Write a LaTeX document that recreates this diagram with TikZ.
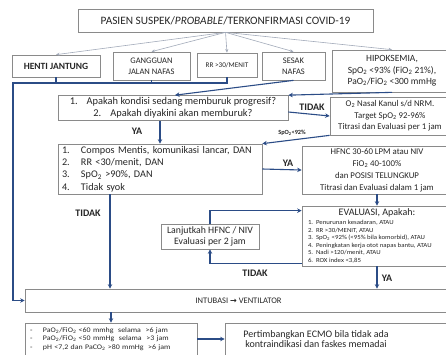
\documentclass[tikz,border=0pt]{standalone}
\usepackage{fontspec}
\setmainfont{Carlito}
\newfontfamily\dejavu{DejaVu Sans}
\newfontfamily\evalfont[FakeStretch=1.1]{Carlito}
\newfontfamily\critfont[FakeStretch=1.13]{Carlito}
\usetikzlibrary{arrows.meta,calc}
\definecolor{navy}{HTML}{2B4C86}
\definecolor{boxgray}{HTML}{8A8A8A}
\definecolor{arrgray}{HTML}{A3ABBA}
\definecolor{txt}{HTML}{262626}
\newcommand\fsz[2]{\fontsize{#1}{#2}\selectfont}
\newcommand\lsub[1]{\textsubscript{#1}}
\begin{document}
\begin{tikzpicture}[x=1pt,y=-1pt,
 box/.style={draw=boxgray,line width=0.7pt,fill=white,inner sep=0pt,align=center,text=txt},
 conn/.style={draw=navy,line width=1.1pt,-{Stealth[length=4.5pt,width=4.5pt]}},
 link/.style={draw=navy,line width=1.1pt},
 thinarr/.style={draw=arrgray,line width=0.6pt,-{Stealth[length=3.5pt,width=3pt]}},
 lbl/.style={font=\fsz{10}{11}\bfseries,text=txt,inner sep=0pt}]
\useasboundingbox (0,0) rectangle (446,354);
\clip (0,0) rectangle (446,354);
\fill[white] (0,0) rectangle (446,354);

\node[box,minimum width=295pt,minimum height=23pt,font=\fsz{11.3}{13}] (top) at (225.5,20.5) {PASIEN SUSPEK/\textit{PROBABLE}/TERKONFIRMASI COVID-19};

\node[box,minimum width=88pt,minimum height=22pt,font=\fsz{9.5}{11}\bfseries] (henti) at (56,66) {HENTI JANTUNG};
\node[box,minimum width=77pt,minimum height=28pt,font=\fsz{8.5}{11}] (gang) at (151.5,66) {GANGGUAN\\JALAN NAFAS};
\node[box,minimum width=60pt,minimum height=24pt,font=\fsz{7.2}{8}] (rr) at (227,65) {RR >30/MENIT};
\node[box,minimum width=63pt,minimum height=28pt,font=\fsz{8.5}{11}] (sesak) at (293.5,66) {SESAK\\NAFAS};
\node[box,minimum width=120pt,minimum height=42pt,font=\fsz{9.5}{11.5}] (hipo) at (392,71) {HIPOKSEMIA,\\SpO\lsub{2} <93\% (FiO\lsub{2} 21\%),\\PaO\lsub{2}/FiO\lsub{2} <300 mmHg};

\node[box,minimum width=230pt,minimum height=25pt,font=\fsz{10.4}{12}] (apakah) at (173,108) {1.\hspace{9pt}Apakah kondisi sedang memburuk progresif?\\2.\hspace{9pt}Apakah diyakini akan memburuk?};
\node[box,minimum width=120pt,minimum height=38pt,font=\fsz{8.8}{11.5}] (o2) at (390,116) {O\lsub{2} Nasal Kanul s/d NRM.\\Target SpO\lsub{2} 92-96\%\\Titrasi dan Evaluasi per 1 jam};

\node[box,minimum width=204pt,minimum height=50pt,align=left,text width=196pt,font=\fsz{10.2}{12.3}] (compos) at (160,169) {\makebox[19pt][l]{1.}Compos Mentis, komunikasi lancar, DAN\\\makebox[19pt][l]{2.}RR <30/menit, DAN\\\makebox[19pt][l]{3.}SpO\lsub{2} >90\%, DAN\\\makebox[19pt][l]{4.}Tidak syok};
\node[box,minimum width=150pt,minimum height=48pt,font=\fsz{8.8}{12}] (hfnc) at (377,170) {HFNC 30-60 LPM atau NIV\\FiO\lsub{2} 40-100\%\\dan POSISI TELUNGKUP\\Titrasi dan Evaluasi dalam 1 jam};

\node[box,minimum width=150pt,minimum height=60pt,align=left,font=\evalfont\fsz{6.2}{7.5}] (eval) at (377,236) {\makebox[142pt][c]{\fontspec{Carlito}\fsz{10}{11}EVALUASI, Apakah:}\\[1.5pt]\hspace*{2pt}\makebox[8pt][l]{1.}Penurunan kesadaran, ATAU\\\hspace*{2pt}\makebox[8pt][l]{2.}RR >30/MENIT, ATAU\\\hspace*{2pt}\makebox[8pt][l]{3.}SpO\lsub{2} <92\% (<95\% bila komorbid), ATAU\\\hspace*{2pt}\makebox[8pt][l]{4.}Peningkatan kerja otot napas bantu, ATAU\\\hspace*{2pt}\makebox[8pt][l]{5.}Nadi >120/menit, ATAU\\\hspace*{2pt}\makebox[8pt][l]{6.}ROX index <3,85};

\node[box,minimum width=98pt,minimum height=25pt,font=\fsz{9.8}{11}] (lanj) at (210,236.5) {Lanjutkah HFNC / NIV\\Evaluasi per 2 jam};

\node[box,minimum width=427pt,minimum height=23pt,font=\fsz{8.5}{10}] (intub) at (238.5,300.5) {INTUBASI {\dejavu\bfseries\fsz{8}{10}→} VENTILATOR};

\node[box,minimum width=172pt,minimum height=48pt,align=left,text width=162pt,font=\critfont\fsz{7}{8.5}] (crit) at (111,347) {\makebox[13pt][l]{-}PaO\lsub{2}/FiO\lsub{2} <60 mmhg\ \ selama\ \ >6 jam\\\makebox[13pt][l]{-}PaO\lsub{2}/FiO\lsub{2} <50 mmHg\ \ selama\ \ >3 jam\\\makebox[13pt][l]{-}pH <7,2 dan PaCO\lsub{2} >80 mmHg\ \ >6 jam\\\mbox{}\\\mbox{}};

\node[draw=boxgray,line width=0.7pt,fill=white,inner sep=0pt,text=txt,minimum height=32pt,font=\fsz{10}{10.5}] (ecmo) at (338.5,339) {\parbox{182pt}{\centering Pertimbangkan ECMO bila tidak ada\\kontraindikasi dan faskes memadai}\hspace*{45pt}};

% labels
\node[lbl] (t1) at (312,107) {TIDAK};
\node[lbl] (y1) at (137,131) {YA};
\node[lbl,font=\fsz{6.3}{7}\bfseries] (s92) at (292,133) {SpO\lsub{2}<92\%};
\node[lbl] (y2) at (288,163) {YA};
\node[lbl] (t2) at (88,213) {TIDAK};
\node[lbl] (t3) at (255,273) {TIDAK};
\node[lbl] (y3) at (387,278) {YA};

% top grey arrows
\foreach \n in {henti,gang,rr,sesak,hipo} \draw[thinarr] (top.south) -- (\n.north);

% blue connectors
\coordinate (jL) at (13,83);
\draw[conn] (rr.south) |- (jL) |- (intub.west);
\draw[link] (henti.south) -- (henti.south |- jL);
\draw[link] (gang.south) -- (gang.south |- jL);
\draw[conn] (sesak.south) -- ($(apakah.north)+(2,0)$);
\draw[conn] (hipo.south) -- (apakah.north east);
\draw[conn] ($(apakah.east)+(0,4)$) -- (o2.west);
\draw[conn] (apakah.south -| compos.north) -- (compos.north);
\draw[conn] (o2.south west) -- (compos.north east);
\draw[conn] (compos.east) -- (hfnc.west);
\draw[conn] (hfnc.south) -- (eval.north);
\draw[conn] (lanj.north) |- ($(eval.north west)+(0,5)$);
\draw[conn] ($(eval.south west)+(0,-3)$) -| (lanj.south);
\draw[conn] (eval.south) -- (eval.south |- intub.north);
\coordinate (cb) at ($(compos.south)+(-50,0)$);
\draw[conn] (cb) -- (cb |- intub.north);
\draw[conn] (crit.north |- intub.south) -- (crit.north);
\draw[conn] (crit.east |- ecmo.west) -- (ecmo.west);
\end{tikzpicture}
\end{document}
